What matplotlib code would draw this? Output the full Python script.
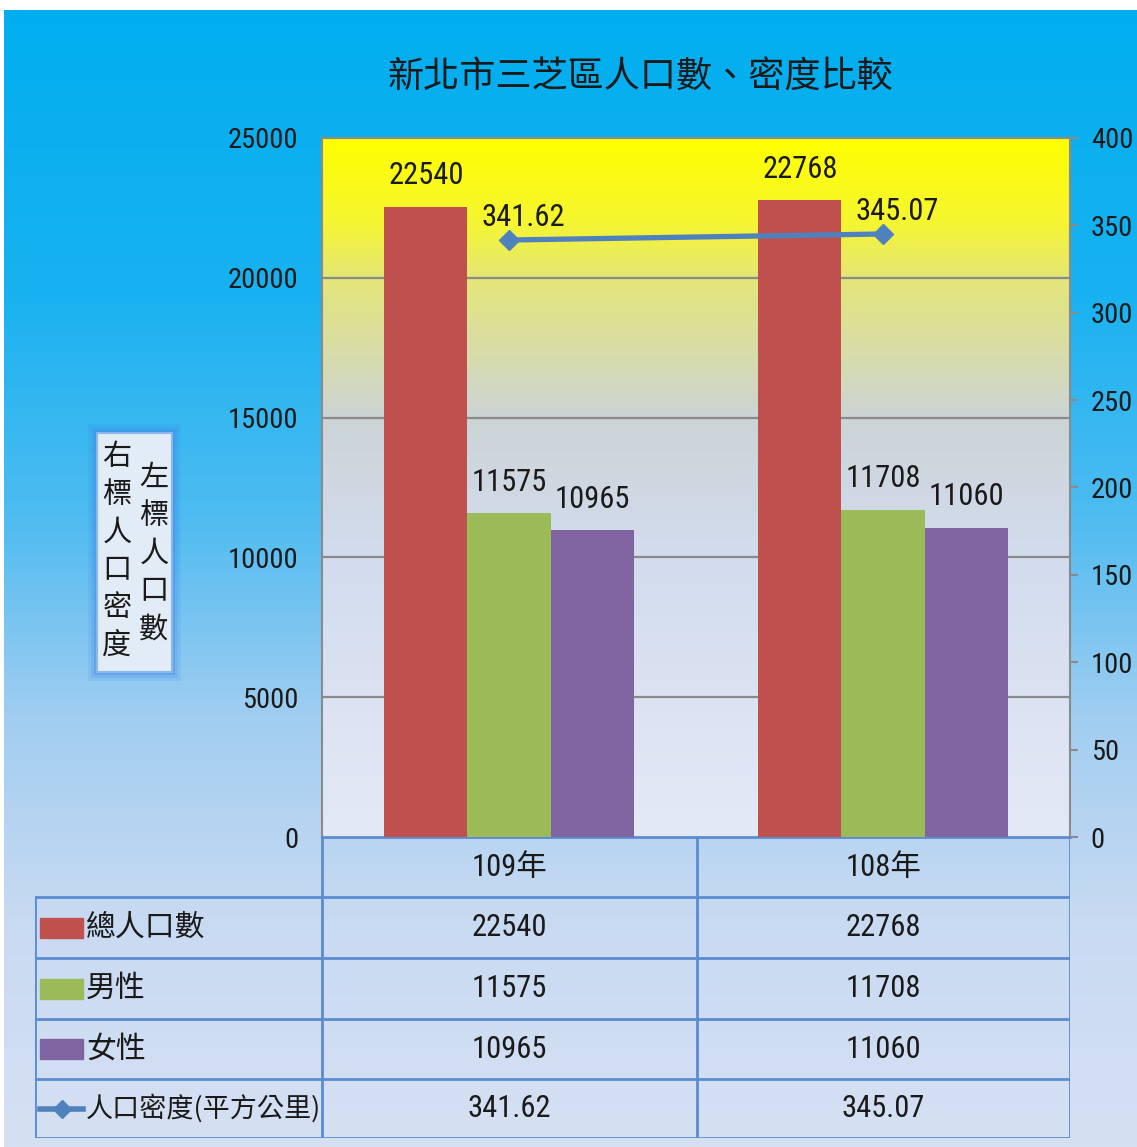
import numpy as np
import matplotlib
matplotlib.use("Agg")
import matplotlib.pyplot as plt
from matplotlib import font_manager as fm
from matplotlib.patches import Rectangle
from matplotlib.colors import LinearSegmentedColormap

# ---------------- data ----------------
categories = ["109年", "108年"]
series_names = ["總人口數", "男性", "女性"]
total_pop = [22540, 22768]
male_pop = [11575, 11708]
female_pop = [10965, 11060]
density_name = "人口密度(平方公里)"
density = [341.62, 345.07]
left_ticks = [0, 5000, 10000, 15000, 20000, 25000]
right_ticks = [0, 50, 100, 150, 200, 250, 300, 350, 400]
title = "新北市三芝區人口數、密度比較"
note_right = "右標人口密度"
note_left = "左標人口數"

# ---------------- fonts ----------------
def pick_narrow():
    best = None
    for f in fm.fontManager.ttflist:
        if f.style != "normal":
            continue
        w = f.weight
        if w not in (400, "normal", "regular", "book"):
            continue
        nm = f.name
        narrow = ("Narrow" in nm or "Condensed" in nm or
                  str(f.stretch) in ("condensed", "semi-condensed", "extra-condensed"))
        if not narrow:
            continue
        rank = 5
        for i, key in enumerate(["Liberation Sans Narrow", "Open Sans", "Roboto", "DejaVu Sans"]):
            if nm.startswith(key):
                rank = i
                break
        if best is None or rank < best[0]:
            best = (rank, nm, f.stretch)
    return best

_nb = pick_narrow()
if _nb is not None:
    NUM = [_nb[1], "Noto Sans CJK TC", "DejaVu Sans"]
    NUM_STRETCH = _nb[2]
else:
    NUM = ["Noto Sans CJK TC", "DejaVu Sans"]
    NUM_STRETCH = "normal"
CJK = ["Noto Sans CJK TC", "DejaVu Sans"]

def numkw(size):
    return dict(family=NUM, fontstretch=NUM_STRETCH, fontsize=size, color="#1a1a1a")

# ---------------- style ----------------
W, H = 1137, 1147
bar_colors = ["#c0504d", "#9bbb59", "#8064a2"]
line_color = "#4f81bd"
grid_color = "#8a8a8a"
table_color = "#5b8bd0"
NS = 22   # number font size
TS = 20.5 # tick label size

def fx(px):
    return px / W

def fy(py):
    return 1 - py / H

fig = plt.figure(figsize=(W / 100, H / 100), dpi=100, facecolor="white")

# figure background gradient
bg = fig.add_axes([fx(4), 0, 1 - fx(4), fy(10)])
bg.set_axis_off()
bg_cmap = LinearSegmentedColormap.from_list(
    "bg", [(0.0, (0/255, 174/255, 239/255)),
           (0.25, (25/255, 178/255, 240/255)),
           (0.45, (80/255, 188/255, 240/255)),
           (0.62, (160/255, 205/255, 240/255)),
           (0.8, (200/255, 218/255, 242/255)),
           (1.0, (214/255, 224/255, 243/255))])
grad = np.linspace(0, 1, 256).reshape(-1, 1)
bg.imshow(grad, cmap=bg_cmap, aspect="auto", extent=[0, 1, 0, 1], origin="upper")
bg.set_xlim(0, 1)
bg.set_ylim(0, 1)

# ---------------- main plot ----------------
L, R, T, B = 322, 1070, 138, 837
ax = fig.add_axes([fx(L), fy(B), fx(R) - fx(L), fy(T) - fy(B)])
pa_cmap = LinearSegmentedColormap.from_list(
    "pa", [(0.0, (255/255, 255/255, 0/255)),
           (0.12, (245/255, 245/255, 50/255)),
           (0.2, (228/255, 230/255, 120/255)),
           (0.4, (204/255, 212/255, 214/255)),
           (0.6, (210/255, 220/255, 238/255)),
           (1.0, (228/255, 233/255, 246/255))])
ax.imshow(grad, cmap=pa_cmap, aspect="auto", extent=[0, 1, 0, 1],
          origin="upper", transform=ax.transAxes, zorder=-5)

x = np.arange(len(categories))
bw = 0.222
series = [total_pop, male_pop, female_pop]
for i, (vals, col) in enumerate(zip(series, bar_colors)):
    pos = x + (i - 1) * bw
    ax.bar(pos, vals, width=bw, color=col, zorder=3)
    for p, v in zip(pos, vals):
        ax.annotate(f"{v}", (p, v), xytext=(0, 12), textcoords="offset points",
                    ha="center", va="bottom", zorder=6, **numkw(NS))

ax.set_xlim(-0.5, len(categories) - 0.5)
ax.set_ylim(0, 25000)
ax.set_yticks(left_ticks)
ax.set_yticklabels([str(t) for t in left_ticks], **numkw(TS))
ax.tick_params(axis="y", length=0, pad=17)
ax.set_xticks([])
for yv in left_ticks[1:-1]:
    ax.axhline(yv, color=grid_color, lw=1.6, zorder=1)
for s in ["left", "top", "right"]:
    ax.spines[s].set_color(grid_color)
    ax.spines[s].set_linewidth(1.5)
ax.spines["bottom"].set_color(table_color)
ax.spines["bottom"].set_linewidth(2)

ax2 = ax.twinx()
ax2.plot(x, density, color=line_color, lw=3.8, marker="D", markersize=10,
         markeredgecolor=line_color, zorder=5)
for xi, d in zip(x, density):
    ax2.annotate(f"{d:.2f}", (xi, d), xytext=(10, 6), textcoords="offset points",
                 ha="center", va="bottom", **numkw(NS))
ax2.set_ylim(0, 400)
ax2.set_yticks(right_ticks)
ax2.set_yticklabels([str(t) for t in right_ticks], **numkw(TS))
ax2.tick_params(axis="y", length=6, width=1.5, color=grid_color, pad=9)
for s in ax2.spines.values():
    s.set_visible(False)

# ---------------- title ----------------
fig.text(fx(640), fy(77), title, ha="center", va="center", fontsize=26,
         family=CJK, color="#1a1a1a")

# ---------------- note box ----------------
for grow, alpha in [(9, 0.12), (6, 0.18), (3, 0.3)]:
    fig.patches.append(Rectangle((fx(97 - grow), fy(672 + grow)),
                                 fx(172 + grow) - fx(97 - grow),
                                 fy(433 - grow) - fy(672 + grow),
                                 transform=fig.transFigure, color="#3b82e6",
                                 alpha=alpha, lw=0, zorder=1))
fig.patches.append(Rectangle((fx(97), fy(672)), fx(172) - fx(97), fy(433) - fy(672),
                             transform=fig.transFigure, facecolor="#e2ecf6",
                             edgecolor="#8ab8ee", lw=1.5, zorder=2))
fig.text(fx(117), fy(442), "\n".join(note_right), ha="center", va="top",
         fontsize=21, family=CJK, linespacing=1.34, color="#1a1a1a", zorder=3)
fig.text(fx(154), fy(463), "\n".join(note_left), ha="center", va="top",
         fontsize=21, family=CJK, linespacing=1.34, color="#1a1a1a", zorder=3)

# ---------------- data table ----------------
TL, C1, C2, TR = 35, 322, 697, 1070
rows_y = [837, 897, 958, 1019, 1079, 1138]
tab = fig.add_axes([fx(TL), fy(rows_y[-1]), fx(TR) - fx(TL), fy(rows_y[0]) - fy(rows_y[-1])])
tab.set_xlim(TL, TR)
tab.set_ylim(rows_y[-1], rows_y[0])
tab.set_axis_off()
lw_t = 2
for yy in rows_y[1:]:
    tab.plot([TL, TR], [yy, yy], color=table_color, lw=lw_t, solid_capstyle="butt")
tab.plot([TL, TL], [rows_y[1], rows_y[-1]], color=table_color, lw=lw_t)
for xx in [C1, C2, TR]:
    tab.plot([xx, xx], [rows_y[0], rows_y[-1]], color=table_color, lw=lw_t)

col_centers = [(C1 + C2) / 2, (C2 + TR) / 2]
for cx, cat in zip(col_centers, categories):
    tab.text(cx, (rows_y[0] + rows_y[1]) / 2, cat, ha="center", va="center", **numkw(NS))

row_values = [total_pop, male_pop, female_pop]
for r, (name, vals, col) in enumerate(zip(series_names, row_values, bar_colors)):
    yc = (rows_y[r + 1] + rows_y[r + 2]) / 2
    tab.add_patch(Rectangle((40, yc - 10), 43, 20, color=col))
    tab.text(86, yc, name, ha="left", va="center", fontsize=21.5, family=CJK, color="#1a1a1a")
    for cx, v in zip(col_centers, vals):
        tab.text(cx, yc, f"{v}", ha="center", va="center", **numkw(NS))

yc = (rows_y[4] + rows_y[5]) / 2
tab.plot([40, 83], [yc, yc], color=line_color, lw=4)
tab.plot([61.5], [yc], marker="D", color=line_color, markersize=9)
tab.text(86, yc, density_name, ha="left", va="center", fontsize=19.5, family=CJK, color="#1a1a1a")
for cx, d in zip(col_centers, density):
    tab.text(cx, yc, f"{d:.2f}", ha="center", va="center", **numkw(NS))

fig.savefig("out.png", dpi=100, facecolor="white")
